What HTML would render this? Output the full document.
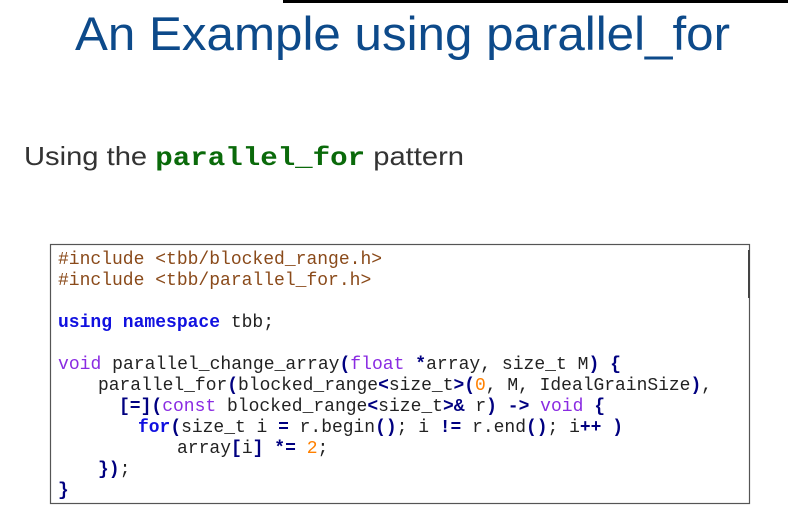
<!DOCTYPE html>
<html><head><meta charset="utf-8"><style>
html,body{margin:0;padding:0;background:#fff;width:788px;height:511px;overflow:hidden}
svg{display:block}
.c{font-family:"Liberation Mono",monospace;font-size:18px;fill:#222;white-space:pre}
.inc{fill:#8a4a1a}
.kw{fill:#1010e0;font-weight:bold}
.ty{fill:#8a2be2}
.p{fill:#000080;font-weight:bold}
.n{fill:#ff8000}
</style></head><body>
<svg width="788" height="511" xmlns="http://www.w3.org/2000/svg">
<rect x="283" y="0" width="505" height="3" fill="#000"/>
<text x="75" y="50" textLength="655" lengthAdjust="spacingAndGlyphs" font-family="Liberation Sans,sans-serif" font-size="47" fill="#0d4a8a">An Example using parallel_for</text>
<text x="24" y="165" textLength="440" lengthAdjust="spacingAndGlyphs" font-family="Liberation Sans,sans-serif" font-size="26" fill="#333">Using the <tspan font-family="Liberation Mono,monospace" font-weight="bold" fill="#0a6a0a">parallel_for</tspan> pattern</text>
<rect x="50.5" y="244.5" width="699" height="259" fill="#fff" stroke="#555" stroke-width="1.2"/>
<line x1="749" y1="250" x2="749" y2="298" stroke="#444" stroke-width="2"/>
<text x="58" y="264" class="c inc">#include &lt;tbb/blocked_range.h&gt;</text>
<text x="58" y="285" class="c inc">#include &lt;tbb/parallel_for.h&gt;</text>
<text x="58" y="327" class="c"><tspan class="kw">using namespace</tspan> tbb;</text>
<text x="58" y="369" class="c" textLength="563" lengthAdjust="spacingAndGlyphs"><tspan class="ty">void</tspan> parallel_change_array<tspan class="p">(</tspan><tspan class="ty">float</tspan> <tspan class="p">*</tspan>array, size_t M<tspan class="p">)</tspan> <tspan class="p">{</tspan></text>
<text x="98" y="390" class="c" textLength="614" lengthAdjust="spacingAndGlyphs">parallel_for<tspan class="p">(</tspan>blocked_range<tspan class="p">&lt;</tspan>size_t<tspan class="p">&gt;(</tspan><tspan class="n">0</tspan>, M, IdealGrainSize<tspan class="p">)</tspan>,</text>
<text x="119" y="411" class="c" textLength="486" lengthAdjust="spacingAndGlyphs"><tspan class="p">[=](</tspan><tspan class="ty">const</tspan> blocked_range<tspan class="p">&lt;</tspan>size_t<tspan class="p">&gt;&amp;</tspan> r<tspan class="p">)</tspan> <tspan class="p">-&gt;</tspan> <tspan class="ty">void</tspan> <tspan class="p">{</tspan></text>
<text x="138" y="432" class="c" textLength="485" lengthAdjust="spacingAndGlyphs"><tspan class="kw">for</tspan><tspan class="p">(</tspan>size_t i <tspan class="p">=</tspan> r.begin<tspan class="p">()</tspan>; i <tspan class="p">!=</tspan> r.end<tspan class="p">()</tspan>; i<tspan class="p">++</tspan> <tspan class="p">)</tspan></text>
<text x="177" y="453" class="c">array<tspan class="p">[</tspan>i<tspan class="p">]</tspan> <tspan class="p">*=</tspan> <tspan class="n">2</tspan>;</text>
<text x="98" y="474" class="c"><tspan class="p">})</tspan>;</text>
<text x="58" y="495" class="c"><tspan class="p">}</tspan></text>
</svg>
</body></html>
